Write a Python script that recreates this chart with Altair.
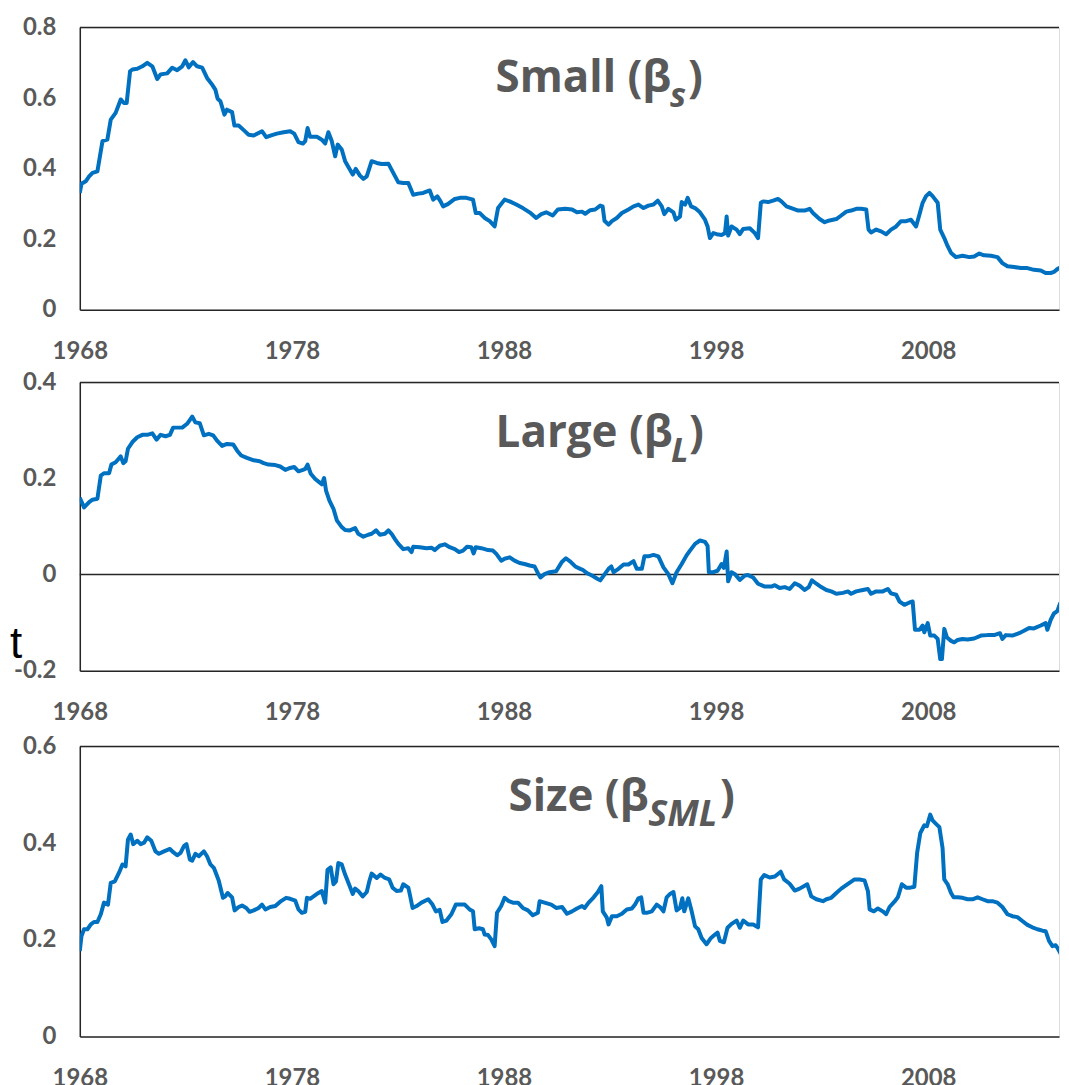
import altair as alt
import pandas as pd

# ---- data: (year, beta) ----
small_series = [
    (1968.00, 0.331), (1968.08, 0.357), (1968.28, 0.364), (1968.44, 0.378), (1968.60, 0.388),
    (1968.83, 0.392), (1969.07, 0.478), (1969.30, 0.482), (1969.46, 0.539), (1969.69, 0.558),
    (1969.93, 0.596), (1970.08, 0.586), (1970.21, 0.586), (1970.37, 0.676), (1970.48, 0.681),
    (1970.71, 0.683), (1970.95, 0.690), (1971.18, 0.700), (1971.42, 0.690), (1971.65, 0.654),
    (1971.81, 0.667), (1972.12, 0.670), (1972.36, 0.686), (1972.59, 0.679), (1972.83, 0.690),
    (1972.98, 0.707), (1973.14, 0.687), (1973.34, 0.702), (1973.53, 0.690), (1973.77, 0.686),
    (1974.00, 0.657), (1974.24, 0.638), (1974.39, 0.624), (1974.50, 0.598), (1974.63, 0.591),
    (1974.82, 0.553), (1974.94, 0.567), (1975.18, 0.560), (1975.29, 0.522), (1975.49, 0.522),
    (1975.73, 0.509), (1975.96, 0.496), (1976.20, 0.494), (1976.43, 0.501), (1976.59, 0.506),
    (1976.79, 0.489), (1977.06, 0.495), (1977.29, 0.499), (1977.61, 0.503), (1977.92, 0.506),
    (1978.11, 0.499), (1978.31, 0.475), (1978.52, 0.471), (1978.63, 0.478), (1978.74, 0.515),
    (1978.86, 0.490), (1979.18, 0.490), (1979.41, 0.482), (1979.57, 0.471), (1979.72, 0.503),
    (1979.88, 0.478), (1980.04, 0.435), (1980.16, 0.468), (1980.35, 0.454), (1980.51, 0.421),
    (1980.74, 0.397), (1980.87, 0.383), (1981.01, 0.399), (1981.21, 0.380), (1981.37, 0.371),
    (1981.53, 0.378), (1981.76, 0.421), (1982.00, 0.416), (1982.23, 0.413), (1982.55, 0.414),
    (1982.78, 0.388), (1983.02, 0.361), (1983.25, 0.359), (1983.49, 0.359), (1983.72, 0.326),
    (1983.96, 0.329), (1984.19, 0.331), (1984.50, 0.338), (1984.66, 0.312), (1984.86, 0.321),
    (1985.01, 0.307), (1985.13, 0.293), (1985.37, 0.300), (1985.68, 0.314), (1985.92, 0.317),
    (1986.23, 0.317), (1986.54, 0.312), (1986.67, 0.274), (1986.86, 0.274), (1987.09, 0.260),
    (1987.33, 0.251), (1987.56, 0.236), (1987.72, 0.288), (1988.03, 0.312), (1988.27, 0.307),
    (1988.58, 0.298), (1988.89, 0.288), (1989.21, 0.276), (1989.52, 0.260), (1989.76, 0.271),
    (1989.99, 0.276), (1990.30, 0.267), (1990.54, 0.284), (1990.89, 0.286), (1991.21, 0.284),
    (1991.44, 0.276), (1991.68, 0.278), (1991.83, 0.272), (1992.07, 0.282), (1992.30, 0.284),
    (1992.54, 0.295), (1992.65, 0.293), (1992.74, 0.252), (1992.93, 0.241), (1993.09, 0.251),
    (1993.32, 0.260), (1993.56, 0.274), (1993.87, 0.284), (1994.11, 0.293), (1994.34, 0.298),
    (1994.58, 0.288), (1994.81, 0.295), (1995.05, 0.298), (1995.25, 0.309), (1995.44, 0.293),
    (1995.56, 0.271), (1995.75, 0.286), (1995.99, 0.276), (1996.10, 0.255), (1996.30, 0.264),
    (1996.38, 0.305), (1996.54, 0.298), (1996.66, 0.317), (1996.82, 0.293), (1997.01, 0.288),
    (1997.24, 0.276), (1997.48, 0.255), (1997.60, 0.236), (1997.71, 0.203), (1997.87, 0.217),
    (1998.03, 0.214), (1998.26, 0.212), (1998.42, 0.217), (1998.50, 0.264), (1998.57, 0.210),
    (1998.73, 0.236), (1998.97, 0.227), (1999.12, 0.214), (1999.28, 0.229), (1999.59, 0.231),
    (1999.83, 0.217), (1999.98, 0.203), (2000.11, 0.303), (2000.22, 0.307), (2000.45, 0.305),
    (2000.69, 0.309), (2000.92, 0.314), (2001.08, 0.307), (2001.32, 0.293), (2001.55, 0.288),
    (2001.87, 0.281), (2002.18, 0.281), (2002.41, 0.286), (2002.57, 0.274), (2002.88, 0.257),
    (2003.12, 0.248), (2003.35, 0.253), (2003.67, 0.257), (2003.90, 0.267), (2004.14, 0.278),
    (2004.37, 0.281), (2004.61, 0.286), (2004.84, 0.286), (2005.08, 0.284), (2005.19, 0.227),
    (2005.31, 0.219), (2005.55, 0.227), (2005.78, 0.222), (2006.02, 0.214), (2006.25, 0.227),
    (2006.49, 0.236), (2006.72, 0.251), (2006.96, 0.251), (2007.19, 0.255), (2007.43, 0.236),
    (2007.59, 0.270), (2007.74, 0.303), (2007.90, 0.322), (2008.06, 0.331), (2008.21, 0.322),
    (2008.45, 0.303), (2008.57, 0.227), (2008.76, 0.203), (2008.92, 0.180), (2009.08, 0.161),
    (2009.31, 0.149), (2009.62, 0.153), (2009.94, 0.149), (2010.17, 0.151), (2010.41, 0.159),
    (2010.64, 0.154), (2010.96, 0.153), (2011.27, 0.149), (2011.50, 0.132), (2011.74, 0.123),
    (2012.05, 0.121), (2012.37, 0.118), (2012.68, 0.118), (2012.99, 0.113), (2013.31, 0.111),
    (2013.54, 0.104), (2013.78, 0.104), (2013.93, 0.107), (2014.09, 0.115), (2014.25, 0.120),
    (2014.37, 0.104), (2014.51, 0.095),
]

large_series = [
    (1968.00, 0.160), (1968.20, 0.140), (1968.44, 0.151), (1968.60, 0.156), (1968.83, 0.158),
    (1968.99, 0.206), (1969.14, 0.211), (1969.38, 0.211), (1969.49, 0.229), (1969.69, 0.234),
    (1969.93, 0.246), (1970.05, 0.232), (1970.16, 0.236), (1970.27, 0.262), (1970.48, 0.276),
    (1970.71, 0.286), (1970.95, 0.291), (1971.18, 0.291), (1971.42, 0.294), (1971.62, 0.281),
    (1971.81, 0.291), (1972.04, 0.288), (1972.25, 0.291), (1972.40, 0.306), (1972.59, 0.306),
    (1972.83, 0.306), (1973.06, 0.314), (1973.30, 0.329), (1973.45, 0.317), (1973.66, 0.315),
    (1973.85, 0.290), (1974.08, 0.293), (1974.29, 0.290), (1974.47, 0.279), (1974.71, 0.268),
    (1974.94, 0.272), (1975.23, 0.271), (1975.42, 0.258), (1975.61, 0.248), (1975.88, 0.243),
    (1976.20, 0.238), (1976.48, 0.236), (1976.67, 0.232), (1976.90, 0.229), (1977.22, 0.228),
    (1977.45, 0.225), (1977.69, 0.218), (1977.92, 0.222), (1978.11, 0.224), (1978.31, 0.215),
    (1978.52, 0.218), (1978.63, 0.220), (1978.74, 0.229), (1978.89, 0.210), (1979.10, 0.199),
    (1979.30, 0.192), (1979.41, 0.188), (1979.52, 0.201), (1979.61, 0.175), (1979.77, 0.154),
    (1979.96, 0.137), (1980.12, 0.113), (1980.35, 0.099), (1980.51, 0.093), (1980.74, 0.092),
    (1980.98, 0.097), (1981.13, 0.085), (1981.37, 0.079), (1981.60, 0.083), (1981.76, 0.085),
    (1981.97, 0.092), (1982.15, 0.083), (1982.39, 0.085), (1982.55, 0.092), (1982.70, 0.085),
    (1982.86, 0.074), (1983.02, 0.064), (1983.25, 0.053), (1983.49, 0.055), (1983.64, 0.047),
    (1983.72, 0.058), (1984.03, 0.057), (1984.35, 0.055), (1984.58, 0.056), (1984.74, 0.051),
    (1984.97, 0.060), (1985.21, 0.063), (1985.44, 0.057), (1985.68, 0.053), (1985.88, 0.047),
    (1986.07, 0.050), (1986.26, 0.058), (1986.46, 0.057), (1986.57, 0.044), (1986.67, 0.057),
    (1986.93, 0.055), (1987.25, 0.051), (1987.48, 0.050), (1987.64, 0.043), (1987.87, 0.029),
    (1988.03, 0.033), (1988.27, 0.036), (1988.50, 0.029), (1988.74, 0.024), (1988.97, 0.022),
    (1989.21, 0.019), (1989.44, 0.017), (1989.60, 0.003), (1989.72, -0.006), (1989.91, 0.001),
    (1990.15, 0.005), (1990.46, 0.007), (1990.74, 0.027), (1990.92, 0.034), (1991.13, 0.027),
    (1991.36, 0.017), (1991.60, 0.012), (1991.71, 0.010), (1991.91, 0.003), (1992.15, -0.002),
    (1992.38, -0.008), (1992.54, -0.012), (1992.70, -0.002), (1992.93, 0.012), (1993.06, 0.017),
    (1993.17, 0.005), (1993.40, 0.012), (1993.64, 0.021), (1993.87, 0.021), (1994.11, 0.028),
    (1994.26, 0.012), (1994.50, 0.012), (1994.62, 0.038), (1994.81, 0.038), (1995.05, 0.041),
    (1995.28, 0.038), (1995.52, 0.015), (1995.75, 0.001), (1995.94, -0.018), (1996.14, 0.005),
    (1996.38, 0.022), (1996.61, 0.040), (1996.77, 0.050), (1997.01, 0.064), (1997.24, 0.071),
    (1997.48, 0.068), (1997.60, 0.060), (1997.66, 0.005), (1997.87, 0.005), (1998.07, 0.008),
    (1998.26, 0.022), (1998.37, 0.014), (1998.50, 0.048), (1998.57, -0.014), (1998.73, 0.005),
    (1998.89, 0.001), (1999.12, -0.011), (1999.36, -0.002), (1999.51, -0.001), (1999.75, -0.006),
    (1999.98, -0.019), (2000.30, -0.025), (2000.61, -0.025), (2000.77, -0.022), (2001.00, -0.028),
    (2001.24, -0.026), (2001.47, -0.030), (2001.71, -0.018), (2001.94, -0.023), (2002.18, -0.032),
    (2002.37, -0.026), (2002.52, -0.012), (2002.73, -0.019), (2002.96, -0.026), (2003.20, -0.032),
    (2003.43, -0.035), (2003.67, -0.040), (2003.98, -0.038), (2004.22, -0.035), (2004.37, -0.040),
    (2004.61, -0.035), (2004.92, -0.032), (2005.16, -0.030), (2005.31, -0.040), (2005.55, -0.035),
    (2005.86, -0.035), (2006.10, -0.030), (2006.25, -0.039), (2006.49, -0.042), (2006.65, -0.056),
    (2006.88, -0.063), (2007.12, -0.058), (2007.27, -0.056), (2007.38, -0.115), (2007.59, -0.115),
    (2007.74, -0.106), (2007.82, -0.120), (2007.98, -0.101), (2008.10, -0.127), (2008.29, -0.127),
    (2008.45, -0.134), (2008.57, -0.176), (2008.65, -0.176), (2008.76, -0.113), (2008.89, -0.131),
    (2009.08, -0.138), (2009.23, -0.141), (2009.39, -0.136), (2009.62, -0.134), (2009.86, -0.135),
    (2010.17, -0.133), (2010.49, -0.127), (2010.80, -0.126), (2011.11, -0.126), (2011.39, -0.122),
    (2011.50, -0.134), (2011.66, -0.126), (2011.97, -0.127), (2012.29, -0.122), (2012.52, -0.117),
    (2012.76, -0.111), (2012.99, -0.112), (2013.31, -0.106), (2013.54, -0.101), (2013.62, -0.115),
    (2013.78, -0.094), (2013.93, -0.081), (2014.09, -0.076), (2014.22, -0.060), (2014.33, -0.058),
    (2014.51, -0.075),
]

size_series = [
    (1968.00, 0.177), (1968.08, 0.208), (1968.20, 0.222), (1968.36, 0.222), (1968.52, 0.232),
    (1968.67, 0.237), (1968.83, 0.237), (1968.99, 0.253), (1969.14, 0.277), (1969.33, 0.273),
    (1969.46, 0.318), (1969.65, 0.321), (1969.85, 0.339), (1970.01, 0.356), (1970.16, 0.352),
    (1970.27, 0.407), (1970.40, 0.418), (1970.52, 0.398), (1970.71, 0.405), (1970.87, 0.398),
    (1971.03, 0.401), (1971.18, 0.412), (1971.37, 0.405), (1971.57, 0.383), (1971.73, 0.378),
    (1971.97, 0.383), (1972.25, 0.388), (1972.36, 0.383), (1972.59, 0.375), (1972.75, 0.380),
    (1972.91, 0.394), (1973.03, 0.398), (1973.19, 0.366), (1973.30, 0.364), (1973.45, 0.378),
    (1973.61, 0.373), (1973.85, 0.383), (1974.00, 0.373), (1974.16, 0.356), (1974.32, 0.349),
    (1974.47, 0.332), (1974.55, 0.323), (1974.75, 0.287), (1974.86, 0.290), (1974.97, 0.297),
    (1975.18, 0.288), (1975.30, 0.261), (1975.49, 0.268), (1975.65, 0.271), (1975.85, 0.266),
    (1976.01, 0.258), (1976.20, 0.261), (1976.43, 0.266), (1976.59, 0.273), (1976.75, 0.263),
    (1976.98, 0.268), (1977.22, 0.270), (1977.45, 0.279), (1977.73, 0.287), (1977.92, 0.285),
    (1978.16, 0.281), (1978.31, 0.263), (1978.47, 0.256), (1978.63, 0.258), (1978.71, 0.287),
    (1978.86, 0.285), (1979.02, 0.290), (1979.25, 0.297), (1979.41, 0.301), (1979.57, 0.277),
    (1979.68, 0.345), (1979.83, 0.350), (1979.96, 0.315), (1980.08, 0.321), (1980.19, 0.359),
    (1980.35, 0.356), (1980.51, 0.335), (1980.71, 0.313), (1980.87, 0.295), (1980.98, 0.306),
    (1981.13, 0.301), (1981.34, 0.290), (1981.53, 0.299), (1981.65, 0.321), (1981.76, 0.337),
    (1982.00, 0.328), (1982.18, 0.335), (1982.39, 0.328), (1982.59, 0.325), (1982.75, 0.308),
    (1982.94, 0.301), (1983.14, 0.302), (1983.25, 0.315), (1983.49, 0.308), (1983.56, 0.294),
    (1983.69, 0.266), (1983.88, 0.270), (1984.11, 0.277), (1984.43, 0.284), (1984.63, 0.273),
    (1984.79, 0.259), (1984.97, 0.262), (1985.10, 0.237), (1985.29, 0.240), (1985.52, 0.253),
    (1985.73, 0.273), (1985.92, 0.273), (1986.15, 0.273), (1986.38, 0.263), (1986.54, 0.259),
    (1986.62, 0.222), (1986.83, 0.224), (1987.01, 0.222), (1987.09, 0.211), (1987.25, 0.210),
    (1987.40, 0.201), (1987.56, 0.187), (1987.67, 0.256), (1987.87, 0.270), (1988.03, 0.287),
    (1988.23, 0.280), (1988.42, 0.277), (1988.66, 0.277), (1988.89, 0.266), (1989.13, 0.261),
    (1989.36, 0.251), (1989.60, 0.256), (1989.68, 0.280), (1989.91, 0.277), (1990.23, 0.273),
    (1990.46, 0.266), (1990.74, 0.268), (1990.97, 0.254), (1991.21, 0.259), (1991.44, 0.265),
    (1991.68, 0.270), (1991.80, 0.266), (1991.99, 0.277), (1992.23, 0.288), (1992.43, 0.299),
    (1992.59, 0.311), (1992.66, 0.259), (1992.85, 0.246), (1992.93, 0.232), (1993.09, 0.249),
    (1993.32, 0.249), (1993.56, 0.254), (1993.79, 0.263), (1994.03, 0.265), (1994.18, 0.273),
    (1994.34, 0.286), (1994.47, 0.288), (1994.58, 0.256), (1994.73, 0.256), (1994.97, 0.259),
    (1995.20, 0.273), (1995.36, 0.268), (1995.52, 0.259), (1995.67, 0.288), (1995.83, 0.295),
    (1995.99, 0.299), (1996.14, 0.261), (1996.30, 0.266), (1996.41, 0.286), (1996.50, 0.259),
    (1996.69, 0.286), (1996.85, 0.259), (1997.01, 0.228), (1997.16, 0.222), (1997.32, 0.204),
    (1997.55, 0.191), (1997.76, 0.204), (1997.95, 0.211), (1998.07, 0.215), (1998.18, 0.198),
    (1998.37, 0.195), (1998.54, 0.225), (1998.73, 0.233), (1998.97, 0.240), (1999.12, 0.225),
    (1999.28, 0.240), (1999.51, 0.232), (1999.75, 0.232), (1999.98, 0.226), (2000.11, 0.325),
    (2000.27, 0.334), (2000.53, 0.329), (2000.77, 0.331), (2001.05, 0.341), (2001.21, 0.325),
    (2001.47, 0.316), (2001.71, 0.302), (2001.94, 0.306), (2002.30, 0.315), (2002.49, 0.290),
    (2002.73, 0.284), (2003.04, 0.280), (2003.20, 0.284), (2003.43, 0.287), (2003.67, 0.297),
    (2003.90, 0.306), (2004.22, 0.316), (2004.53, 0.325), (2004.76, 0.325), (2005.00, 0.323),
    (2005.16, 0.301), (2005.24, 0.263), (2005.44, 0.259), (2005.63, 0.265), (2005.86, 0.259),
    (2006.02, 0.253), (2006.18, 0.268), (2006.41, 0.279), (2006.57, 0.288), (2006.76, 0.315),
    (2006.96, 0.308), (2007.16, 0.308), (2007.35, 0.310), (2007.48, 0.380), (2007.63, 0.421),
    (2007.82, 0.437), (2007.94, 0.435), (2008.10, 0.459), (2008.21, 0.447), (2008.37, 0.440),
    (2008.53, 0.433), (2008.68, 0.390), (2008.76, 0.325), (2008.92, 0.315), (2009.08, 0.297),
    (2009.20, 0.288), (2009.39, 0.288), (2009.62, 0.287), (2009.86, 0.284), (2010.09, 0.284),
    (2010.33, 0.288), (2010.56, 0.284), (2010.80, 0.280), (2011.03, 0.280), (2011.27, 0.277),
    (2011.50, 0.268), (2011.74, 0.253), (2011.97, 0.249), (2012.21, 0.247), (2012.44, 0.239),
    (2012.68, 0.231), (2012.91, 0.226), (2013.15, 0.222), (2013.39, 0.219), (2013.54, 0.218),
    (2013.70, 0.198), (2013.86, 0.187), (2014.01, 0.189), (2014.09, 0.184), (2014.25, 0.171),
    (2014.37, 0.167), (2014.51, 0.170),
]

x_ticks = [1968, 1978, 1988, 1998, 2008]
x_domain = [1968, 2014.17]
small_y_ticks = [0, 0.2, 0.4, 0.6, 0.8]
large_y_ticks = [-0.2, 0, 0.2, 0.4]
size_y_ticks = [0, 0.2, 0.4, 0.6]

BLUE = "#0070C0"
GRAY = "#595959"
FRAME = "#262626"
FONT = "Lato"
TITLE_FONT = "Open Sans"
PLOT_W = 982

one = pd.DataFrame({"k": [0]})

LABEL_EXPR = ("datum.value == 0 ? '0' : (datum.value < 0 ? '-' + format(-datum.value, '.1f')"
              " : format(datum.value, '.1f'))")


def panel(series, ydom, yticks, height, main, sub, main_x, sub_x, paren_x, sub_size,
          zero_line=False, stray=None):
    df = pd.DataFrame(series, columns=["year", "beta"])
    x = alt.X("year:Q",
              scale=alt.Scale(domain=x_domain, nice=False, zero=False),
              axis=alt.Axis(values=x_ticks, format="d", title=None, grid=False,
                            ticks=False, tickSize=0, labelPadding=30, labelFlush=False,
                            labelOverlap=False, labelBound=False,
                            domainColor=FRAME, domainWidth=1.5,
                            labelFont=FONT, labelFontSize=24, labelFontWeight="bold",
                            labelColor=GRAY))
    y = alt.Y("beta:Q",
              scale=alt.Scale(domain=ydom, nice=False, zero=False),
              axis=alt.Axis(values=yticks, title=None, grid=False, ticks=False,
                            tickSize=0, labelPadding=24, minExtent=71, maxExtent=71,
                            labelExpr=LABEL_EXPR, labelOverlap=False,
                            domainColor=FRAME, domainWidth=1.5,
                            labelFont=FONT, labelFontSize=24, labelFontWeight="bold",
                            labelColor=GRAY))
    layers = []
    layers.append(alt.Chart(one).mark_rule(color=FRAME, strokeWidth=1.5)
                  .encode(y=alt.value(0)))
    if zero_line:
        layers.append(alt.Chart(one).mark_rule(color=FRAME, strokeWidth=1.5)
                      .encode(y=alt.datum(0)))
    layers.append(alt.Chart(df).mark_line(color=BLUE, strokeWidth=4, clip=True,
                                          strokeJoin="round")
                  .encode(x=x, y=y))
    layers.append(alt.Chart(one).mark_text(text=main, align="left", baseline="alphabetic",
                                           font=TITLE_FONT, fontSize=44, fontWeight="bold",
                                           color=GRAY)
                  .encode(x=alt.value(main_x), y=alt.value(65)))
    layers.append(alt.Chart(one).mark_text(text=sub, align="left", baseline="alphabetic",
                                           font=TITLE_FONT, fontSize=sub_size, fontWeight="bold",
                                           fontStyle="italic", color=GRAY)
                  .encode(x=alt.value(sub_x), y=alt.value(80)))
    layers.append(alt.Chart(one).mark_text(text=")", align="left", baseline="alphabetic",
                                           font=TITLE_FONT, fontSize=44, fontWeight="bold",
                                           color=GRAY)
                  .encode(x=alt.value(paren_x), y=alt.value(65)))
    if stray is not None:
        layers.append(alt.Chart(one).mark_text(text=stray, align="left", baseline="alphabetic",
                                               font="Liberation Sans", fontSize=44,
                                               color="#000000")
                      .encode(x=alt.value(-70), y=alt.value(276)))
    return alt.layer(*layers).properties(width=PLOT_W, height=height)


p1 = panel(small_series, [0, 0.8], small_y_ticks, 283, "Small (β", "s", 417, 592, 610, 34)
p2 = panel(large_series, [-0.2, 0.4], large_y_ticks, 289, "Large (β", "L", 417, 593, 611, 34,
           zero_line=True, stray="t")
p3 = panel(size_series, [0, 0.6], size_y_ticks, 291, "Size (β", "SML", 430, 570, 642, 36)

top = alt.vconcat(p1, p2, spacing=5)
chart = (alt.vconcat(top, p3, spacing=8)
         .properties(padding={"left": 0, "top": 5, "right": 0, "bottom": 0})
         .configure_view(stroke=None)
         .configure(background="white"))

chart.save("out.html", embed_options={"renderer": "svg", "actions": False})
